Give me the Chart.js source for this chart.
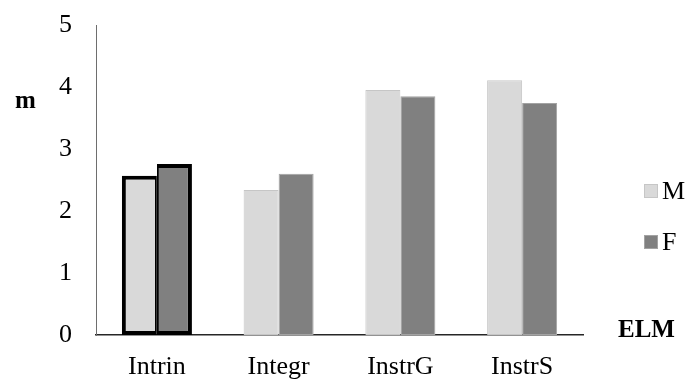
<!DOCTYPE html>
<html>
<head>
<meta charset="utf-8">
<script src="https://cdn.jsdelivr.net/npm/chart.js@4/dist/chart.umd.min.js"></script>
<style>
  html, body { margin: 0; padding: 0; background: #ffffff; }
  #wrap { width: 686px; height: 381px; }
</style>
</head>
<body>
<div id="wrap"><canvas id="c" width="686" height="381"></canvas></div>
<script>
// Categories and series values
const categories = ['Intrin', 'Integr', 'InstrG', 'InstrS'];
const seriesM = [2.57, 2.34, 3.95, 4.11];
const seriesF = [2.76, 2.60, 3.85, 3.74];
const seriesNames = ['M', 'F'];
const yTicks = [0, 1, 2, 3, 4, 5];
const yAxisName = 'm';
const xAxisName = 'ELM';

const FONT = '"Liberation Serif", "Times New Roman", serif';
const fillColors = ['#d9d9d9', '#808080'];
const edgeColors = ['#c6c6c6', '#a3a3a3'];
const highlightIndex = 0;

function borderWidthFor(side) {
  return (ctx) => {
    if (ctx.dataIndex !== highlightIndex) return 1;
    return side === 0
      ? { top: 4, left: 4, bottom: 4, right: 2 }
      : { top: 4, left: 2, bottom: 4, right: 4 };
  };
}
function borderColorFor(side) {
  return (ctx) => ctx.dataIndex === highlightIndex ? '#000000' : edgeColors[side];
}

// Axis names and the legend on the right
const annotations = {
  id: 'annotations',
  afterDraw(chart) {
    const c = chart.ctx;
    c.save();
    c.fillStyle = '#000';
    c.textBaseline = 'middle';
    c.textAlign = 'left';
    c.font = 'bold 25px ' + FONT;
    c.fillText(yAxisName, 15, 102);
    c.fillText(xAxisName, 618, 331);

    c.font = '26px ' + FONT;
    const rows = [191, 242];
    chart.data.datasets.forEach((ds, i) => {
      const y = rows[i];
      c.fillStyle = fillColors[i];
      c.fillRect(644, y - 7, 14, 14);
      c.strokeStyle = edgeColors[i];
      c.lineWidth = 1;
      c.strokeRect(644.5, y - 6.5, 13, 13);
      c.fillStyle = '#000';
      c.fillText(ds.label, 662, y + 1);
    });
    c.restore();
  }
};

new Chart(document.getElementById('c'), {
  type: 'bar',
  data: {
    labels: categories,
    datasets: [
      {
        label: seriesNames[0],
        data: seriesM,
        backgroundColor: fillColors[0],
        borderColor: borderColorFor(0),
        borderWidth: borderWidthFor(0),
        borderSkipped: false
      },
      {
        label: seriesNames[1],
        data: seriesF,
        backgroundColor: fillColors[1],
        borderColor: borderColorFor(1),
        borderWidth: borderWidthFor(1),
        borderSkipped: false
      }
    ]
  },
  options: {
    responsive: false,
    animation: false,
    layout: { padding: { top: 0, right: 103, bottom: 0, left: 0 } },
    plugins: { legend: { display: false }, tooltip: { enabled: false } },
    datasets: { bar: { categoryPercentage: 0.575, barPercentage: 1.0 } },
    scales: {
      x: {
        grid: { display: false, drawTicks: false },
        border: { display: true, color: '#262626', width: 1.5 },
        ticks: { color: '#000', font: { family: FONT, size: 26 }, padding: 17 },
        afterFit(scale) { scale.height = 46; }
      },
      y: {
        min: 0,
        max: 5,
        afterBuildTicks(scale) { scale.ticks = yTicks.map(v => ({ value: v })); },
        grid: { display: false, drawTicks: false },
        border: { display: true, color: '#6e6e6e', width: 1 },
        ticks: { color: '#000', font: { family: FONT, size: 26 }, padding: 24 },
        afterFit(scale) {
          scale.width = 96;
          scale.paddingTop = 25;
          scale.paddingBottom = 0;
        }
      }
    }
  },
  plugins: [annotations]
});
</script>
</body>
</html>
